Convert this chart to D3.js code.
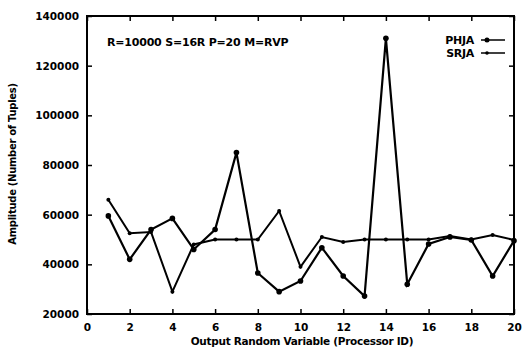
<!DOCTYPE html>
<html><head><meta charset="utf-8">
<script src="https://cdn.jsdelivr.net/npm/d3@7"></script>
<style>body{margin:0;background:#fff}svg{display:block}text{font-family:"DejaVu Sans",sans-serif;font-weight:bold;fill:#000}</style>
</head><body>
<script>
const processorIds = d3.range(1, 21);
const phjaValues = [59500, 42000, 54000, 58500, 46000, 54000, 85000, 36500, 29000, 33300, 46700, 35300, 27200, 131000, 32000, 48200, 51000, 49800, 35300, 49500];
const srjaValues = [66000, 52500, 53000, 29000, 48000, 50000, 50000, 50000, 61500, 39000, 51000, 49000, 50000, 50000, 50000, 50000, 51400, 50000, 51800, 49800];
const xTicks = d3.range(0, 21, 2);
const yTicks = [20000, 40000, 60000, 80000, 100000, 120000, 140000];
const seriesNames = ["PHJA", "SRJA"];
const annotation = "R=10000 S=16R P=20 M=RVP";

const W = 523, H = 348;
const m = {l: 87, r: 9, t: 16, b: 34};
const svg = d3.select("body").append("svg").attr("width", W).attr("height", H);
const x = d3.scaleLinear().domain([0, 20]).range([m.l, W - m.r]);
const y = d3.scaleLinear().domain([20000, 140000]).range([H - m.b, m.t]);

const gx = svg.append("g").attr("transform", `translate(0,${H - m.b})`)
  .call(d3.axisBottom(x).tickValues(xTicks).tickSize(-5).tickPadding(8).tickFormat(d3.format("d")));
const gxt = svg.append("g").attr("transform", `translate(0,${m.t})`)
  .call(d3.axisTop(x).tickValues(xTicks).tickSize(-5).tickFormat(""));
const gy = svg.append("g").attr("transform", `translate(${m.l},0)`)
  .call(d3.axisLeft(y).tickValues(yTicks).tickSize(-5).tickPadding(8).tickFormat(d3.format("d")));
const gyr = svg.append("g").attr("transform", `translate(${W - m.r},0)`)
  .call(d3.axisRight(y).tickValues(yTicks).tickSize(-5).tickFormat(""));
[gx, gxt, gy, gyr].forEach(g => {
  g.select(".domain").remove();
  g.selectAll("line").attr("stroke", "#000").attr("stroke-width", 1.5);
  g.selectAll("text").style("font-size", "10.5px").style("font-family", "DejaVu Sans, sans-serif").style("font-weight", "bold");
});
gx.selectAll("text").attr("dy", "0.85em");

svg.append("rect").attr("x", m.l).attr("y", m.t).attr("width", W - m.r - m.l).attr("height", H - m.b - m.t)
  .attr("fill", "none").attr("stroke", "#000").attr("stroke-width", 2);

const line = d3.line().x((d, i) => x(processorIds[i])).y(d => y(d));
function drawSeries(vals, r, sw) {
  svg.append("path").datum(vals).attr("d", line).attr("fill", "none").attr("stroke", "#000").attr("stroke-width", sw);
  svg.selectAll(null).data(vals).enter().append("circle")
    .attr("cx", (d, i) => x(processorIds[i])).attr("cy", d => y(d)).attr("r", r).attr("fill", "#000");
}
drawSeries(srjaValues, 2, 2);
drawSeries(phjaValues, 2.8, 2.2);

svg.append("text").attr("x", 107).attr("y", 46).style("font-size", "11px").style("letter-spacing", "-0.2px").text(annotation);

seriesNames.forEach((n, i) => {
  const ly = 40 + i * 13;
  svg.append("text").attr("x", 474).attr("y", ly + 4).attr("text-anchor", "end").style("font-size", "11px").style("letter-spacing", "-0.3px").text(n);
  svg.append("line").attr("x1", 481).attr("x2", 505).attr("y1", ly).attr("y2", ly).attr("stroke", "#000").attr("stroke-width", 1.5);
  svg.append("circle").attr("cx", 487).attr("cy", ly).attr("r", i === 0 ? 2.5 : 1.8).attr("fill", "#000");
});

svg.append("text").attr("x", 302).attr("y", 345).attr("text-anchor", "middle").style("font-size", "10.5px").style("letter-spacing", "-0.3px")
  .text("Output Random Variable (Processor ID)");
svg.append("text").attr("transform", `translate(16,164) rotate(-90)`).attr("text-anchor", "middle").style("font-size", "10px").style("letter-spacing", "-0.3px")
  .text("Amplitude (Number of Tuples)");
</script>
</body></html>
